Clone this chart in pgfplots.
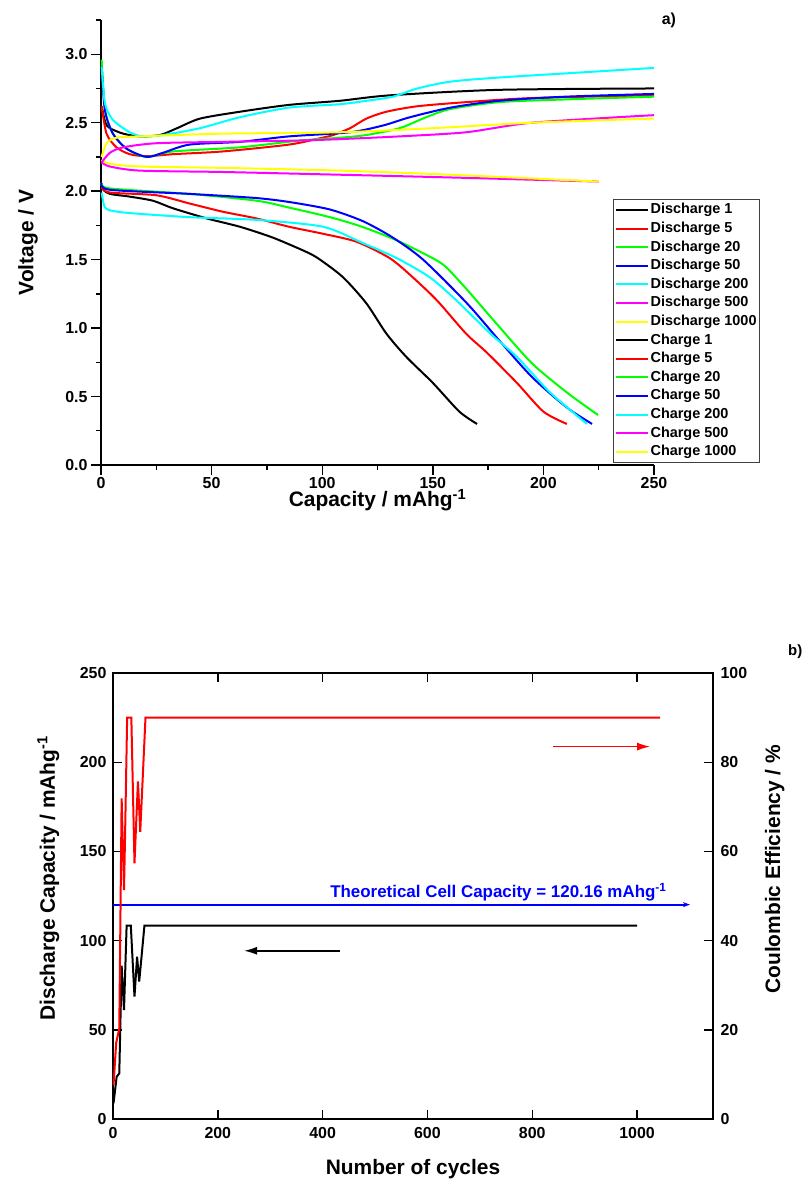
\documentclass[border=0pt]{standalone}
\usepackage{fontspec}
\setmainfont{Liberation Sans}
\usepackage{pgfplots}
\pgfplotsset{compat=1.18}
\usetikzlibrary{arrows.meta}

\definecolor{cy}{rgb}{0,1,1}
\definecolor{mg}{rgb}{1,0,1}
\definecolor{gr}{rgb}{0,1,0}
\definecolor{ye}{rgb}{1,1,0}

\pgfplotsset{
  panel/.style={
    scale only axis,
    /pgf/number format/assume math mode=true,
    /pgf/number format/1000 sep={},
    every tick label/.append style={font=\fontsize{16}{18}\selectfont\bfseries},
    label style={font=\fontsize{21}{24}\selectfont\bfseries},
    axis line style={line width=1.6bp},
    tick style={line width=1.4bp, black},
  },
  vc/.style={line width=2bp, smooth, tension=0.45},
}

\begin{document}
\begin{tikzpicture}
\useasboundingbox (0bp,0bp) rectangle (804bp,-1180bp);

% ---------- a) voltage profiles ----------
\begin{axis}[panel,
  at={(101bp,-465bp)}, anchor=south west, width=553bp, height=445bp,
  xmin=0, xmax=250, ymin=0, ymax=3.25,
  axis x line*=bottom, axis y line*=left,
  tick align=outside, major tick length=10bp, minor tick length=5bp,
  xtick={0,50,...,250}, minor xtick={25,75,...,225},
  ytick={0,0.5,...,3.0}, minor ytick={0.25,0.75,...,3.25},
  yticklabel style={/pgf/number format/.cd, fixed, fixed zerofill, precision=1},
  xticklabel style={yshift=1bp},
  xlabel={Capacity / mAhg\textsuperscript{-1}},
  ylabel={Voltage / V},
  xlabel style={at={(axis description cs:0.5,-0.094)}, anchor=base},
  ylabel style={at={(axis description cs:-0.132,0.5)}, anchor=center},
  clip=false,
  legend cell align=left,
  legend style={at={(axis description cs:0.926,0.598)}, anchor=north west,
    draw=black!75, line width=1bp, fill=white,
    font=\fontsize{14.5}{16}\selectfont\bfseries,
    nodes={inner ysep=0.6bp, inner xsep=2bp, text height=11bp, text depth=3bp},
    row sep=3.4bp, inner xsep=1bp, inner ysep=3bp},
  legend image code/.code={\draw[#1, line width=2bp] (0bp,0bp) -- (32bp,0bp);},
]
% discharge
\addplot[vc, black] coordinates {(0.3,2.04) (1,2.01) (4,1.98) (13,1.96) (23.5,1.93) (32.5,1.875) (48,1.80) (62.8,1.74) (77.8,1.66) (93,1.555) (99,1.50) (109.5,1.37) (120,1.18) (129,0.96) (138,0.79) (150,0.60) (162,0.39) (170,0.30)};
\addlegendentry{Discharge 1}
\addplot[vc, red] coordinates {(0.3,2.03) (4,1.99) (25,1.97) (40,1.91) (55,1.85) (70.5,1.80) (85,1.74) (100,1.69) (115.6,1.63) (130.6,1.51) (141,1.37) (152,1.20) (165,0.96) (174.5,0.82) (188,0.60) (200,0.39) (210.6,0.30)};
\addlegendentry{Discharge 5}
\addplot[vc, gr] coordinates {(0.3,2.06) (4,2.02) (40,1.98) (70.5,1.93) (85,1.88) (103.5,1.81) (118,1.74) (133.8,1.64) (150,1.51) (156,1.445) (165.5,1.28) (180,1.01) (195,0.74) (210.6,0.53) (224.7,0.365)};
\addlegendentry{Discharge 20}
\addplot[vc, blue] coordinates {(0.3,2.06) (4,2.01) (40,1.98) (70,1.95) (85.4,1.92) (103.5,1.866) (118.5,1.78) (132,1.66) (145.6,1.50) (165.5,1.18) (180,0.91) (195,0.64) (210.6,0.42) (222,0.30)};
\addlegendentry{Discharge 50}
\addplot[vc, cy] coordinates {(0.3,1.99) (1.5,1.89) (4,1.86) (13,1.84) (40,1.81) (70.5,1.79) (100.4,1.74) (118.5,1.62) (133.8,1.51) (148.7,1.37) (160.8,1.20) (176,0.96) (188,0.79) (203,0.53) (219.7,0.30)};
\addlegendentry{Discharge 200}
\addplot[vc, mg] coordinates {(0.3,2.21) (4,2.18) (17.6,2.15) (55,2.14) (108,2.12) (158,2.10) (225,2.07)};
\addlegendentry{Discharge 500}
\addplot[vc, ye] coordinates {(0.3,2.23) (4,2.20) (17.6,2.18) (55,2.17) (108,2.15) (158,2.12) (225,2.07)};
\addlegendentry{Discharge 1000}
% charge
\addplot[vc, black] coordinates {(0.3,2.62) (2,2.50) (4,2.46) (10,2.42) (17.6,2.40) (26.7,2.41) (34.4,2.46) (44.8,2.53) (62.8,2.58) (85,2.63) (108,2.66) (130.7,2.70) (180,2.74) (250,2.75)};
\addlegendentry{Charge 1}
\addplot[vc, red] coordinates {(0.3,2.62) (2.5,2.42) (7,2.32) (13,2.27) (20.6,2.255) (32.6,2.27) (55,2.29) (85,2.34) (100,2.39) (105,2.41) (112.6,2.46) (120,2.53) (129,2.58) (143,2.62) (165,2.65) (195,2.68) (250,2.70)};
\addlegendentry{Charge 5}
\addplot[vc, gr] coordinates {(0.3,2.96) (1.8,2.59) (5.4,2.42) (11.6,2.31) (20.6,2.25) (32.6,2.29) (62.8,2.32) (90,2.37) (108,2.39) (120,2.41) (135,2.46) (147,2.54) (158,2.60) (180,2.65) (210,2.67) (250,2.69)};
\addlegendentry{Charge 20}
\addplot[vc, blue] coordinates {(0.3,2.91) (1.8,2.59) (5.4,2.42) (11.6,2.31) (20.6,2.25) (28,2.28) (40,2.34) (62.8,2.36) (85,2.40) (112.6,2.43) (127.6,2.48) (139.7,2.54) (158,2.61) (180,2.66) (210,2.69) (250,2.71)};
\addlegendentry{Charge 50}
\addplot[vc, cy] coordinates {(0.3,2.91) (1.8,2.64) (5.4,2.52) (13,2.43) (19,2.40) (28,2.41) (44.8,2.46) (62.8,2.54) (85,2.61) (108,2.635) (120,2.66) (132,2.69) (143,2.75) (158,2.80) (180,2.83) (210,2.86) (250,2.90)};
\addlegendentry{Charge 200}
\addplot[vc, mg] coordinates {(0.3,2.21) (4,2.28) (10,2.32) (25,2.35) (55,2.36) (90,2.37) (108,2.38) (135,2.40) (165,2.43) (195,2.50) (250,2.555)};
\addlegendentry{Charge 500}
\addplot[vc, ye] coordinates {(0.3,2.25) (2.5,2.35) (7,2.39) (17.6,2.40) (55,2.42) (108,2.43) (150,2.46) (195,2.50) (250,2.53)};
\addlegendentry{Charge 1000}
\node[font=\fontsize{16}{18}\selectfont\bfseries] at (axis description cs:1.027,1.0) {a)};
\end{axis}

% ---------- b) cycling ----------
\begin{axis}[panel,
  at={(113bp,-1119bp)}, anchor=south west, width=600bp, height=446bp,
  xmin=0, xmax=1145, ymin=0, ymax=250,
  xtick pos=both, ytick pos=left,
  tick align=inside, major tick length=9bp,
  xtick={0,200,...,1000}, ytick={0,50,...,250},
  xticklabel style={yshift=-5bp},
  yticklabel style={xshift=-3bp},
  xlabel={Number of cycles},
  ylabel={Discharge Capacity / mAhg\textsuperscript{-1}},
  xlabel style={at={(axis description cs:0.5,-0.1233)}, anchor=base},
  ylabel style={at={(axis description cs:-0.108,0.54)}, anchor=center},
  clip=false,
]
\addplot[black, line width=2bp] coordinates {(1,8.8) (7,23.7) (12,25.6) (16.5,86) (21,61) (26,108.4) (34,108.4) (41,68.6) (46,91) (50,77) (60,108.4) (1000,108.4)};
\addplot[blue, line width=1.8bp, -{Stealth[length=7bp,width=5bp]}] coordinates {(0,120.16) (1101,120.16)};
\node[blue, anchor=base east, font=\fontsize{17}{19}\selectfont\bfseries] at (axis cs:1063,124.3) {Theoretical Cell Capacity = 120.16 mAhg\textsuperscript{-1}};
\draw[black, line width=1.6bp, -{Latex[length=13bp,width=8bp]}] (axis cs:433,94.3) -- (axis cs:250,94.3);
\node[font=\fontsize{15}{17}\selectfont\bfseries] at (axis description cs:1.137,1.049) {b)};
\end{axis}
\begin{axis}[panel,
  at={(113bp,-1119bp)}, anchor=south west, width=600bp, height=446bp,
  xmin=0, xmax=1145, ymin=0, ymax=100,
  axis x line=none, axis y line*=right,
  tick align=inside, major tick length=9bp,
  ytick={0,20,...,100},
  yticklabel style={xshift=4bp},
  ylabel={Coulombic Efficiency / \%},
  ylabel style={at={(axis description cs:1.103,0.56)}, anchor=center, rotate=0},
  clip=false,
]
\addplot[red, line width=2bp] coordinates {(1,7.6) (6,17) (12,20.3) (16.5,71.9) (21,51.3) (23,63.3) (27,90) (35,90) (41,57.3) (47.6,75.7) (52,64.4) (62,90) (1044,90)};
\draw[red, line width=1.6bp, -{Latex[length=13bp,width=8bp]}] (axis cs:840,83.5) -- (axis cs:1025,83.5);
\end{axis}
\end{tikzpicture}
\end{document}
